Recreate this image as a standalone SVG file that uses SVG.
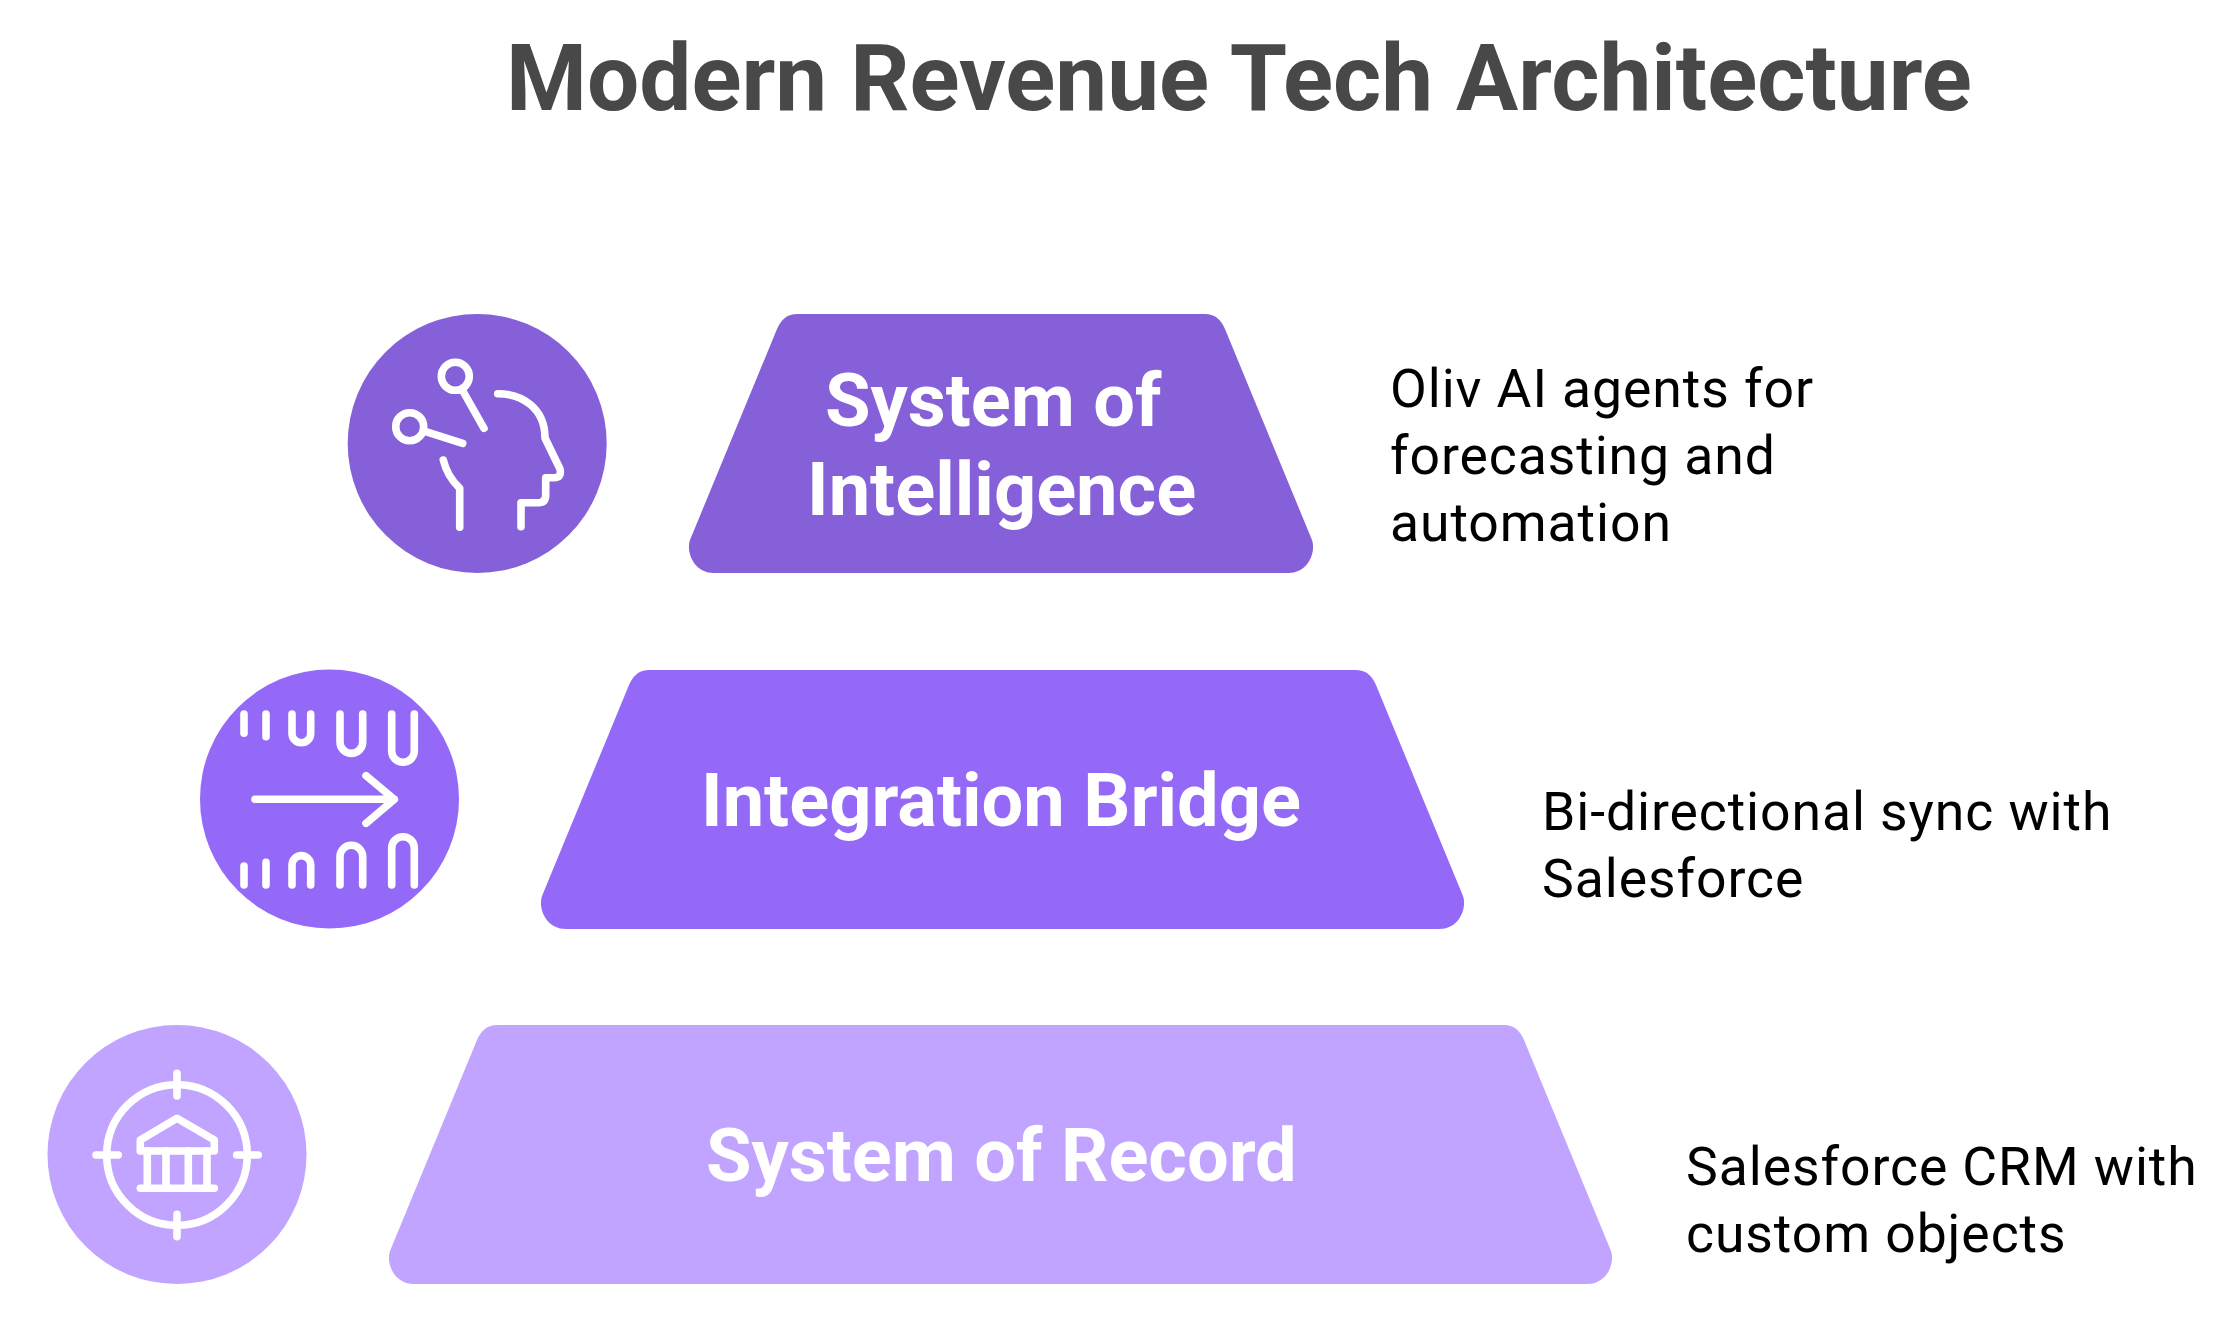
<svg xmlns="http://www.w3.org/2000/svg" width="2235" height="1333" viewBox="0 0 2235 1333">
<style>
text{font-family:Roboto,"Liberation Sans",sans-serif}
.title{font-size:92.6px;font-weight:700;fill:#484848}
.lab{font-size:74px;font-weight:700;fill:#fff}
.desc{font-size:53.5px;letter-spacing:.92px;fill:#000}
.ic{fill:none;stroke:#fff;stroke-width:7.6;stroke-linecap:round;stroke-linejoin:round}
</style>
<rect width="2235" height="1333" fill="#fff"/>
<text class="title" x="506" y="110">Modern Revenue Tech Architecture</text>
<g id="connectors"/>
<g id="node-intelligence">
<circle cx="477.2" cy="443.5" r="129.5" fill="#8560D8"/>
<g class="ic">
<circle cx="455.3" cy="376.3" r="14"/>
<path d="M462.3 390L484 428.3"/>
<circle cx="409.7" cy="426.7" r="14"/>
<path d="M425.7 431.7L462.7 443.3"/>
<path d="M443.3 460Q447 476 459.7 488.3V527.3"/>
<path d="M497.7 393.7C522 393.7 545 408 545 438L560 469Q562 477.7 554 477.7H545.7V495Q545.7 502.7 538.3 502.7H521V526.7"/>
</g>
<path fill="#8560D8" d="M797 314H1205Q1218.7 314 1225 329L1312 540C1316 551 1309 573 1288 573H714C693 573 686 551 690 540L777 329Q783.3 314 797 314Z"/>
<text class="lab" x="825" y="426">System of</text>
<text class="lab" x="807" y="515">Intelligence</text>
<text class="desc" x="1390" y="407">Oliv AI agents for</text>
<text class="desc" x="1390" y="474">forecasting and</text>
<text class="desc" x="1390" y="541">automation</text>
</g>
<g id="node-bridge">
<circle cx="329.5" cy="799" r="129.5" fill="#9469F7"/>
<g class="ic">
<path d="M255 799.3H394.3M366 775.7L394.3 799.3L366 823.3"/>
<path d="M244 714V733.3M266 714V736.7"/>
<path d="M292 714V733.4A9.35 9.35 0 0 0 310.7 733.4V714"/>
<path d="M340 714V742A11.35 11.35 0 0 0 362.7 742V714"/>
<path d="M391.7 714V751A11.3 11.3 0 0 0 414.3 751V714"/>
<path d="M244 885V866M266 885V862.3"/>
<path d="M292 885V865A9.35 9.35 0 0 1 310.7 865V885"/>
<path d="M340 885V856.6A11.35 11.35 0 0 1 362.7 856.6V885"/>
<path d="M391.7 885V848A11.3 11.3 0 0 1 414.3 848V885"/>
</g>
<path fill="#9469F7" d="M649 670H1356Q1369.7 670 1376 685L1463 896C1467 907 1460 929 1439 929H566C545 929 538 907 542 896L629 685Q635.3 670 649 670Z"/>
<text class="lab" x="701" y="826">Integration Bridge</text>
<text class="desc" x="1542" y="830">Bi-directional sync with</text>
<text class="desc" x="1542" y="897">Salesforce</text>
</g>
<g id="node-record">
<circle cx="177" cy="1154.5" r="129.5" fill="#C0A4FF"/>
<g class="ic">
<circle cx="177" cy="1155" r="70.3"/>
<path d="M177 1073.3V1096M177 1214.3V1236.7M96 1155H118.3M236.7 1155H258.3"/>
<path d="M140.3 1151V1140L177 1118.3L214.3 1140V1151Z"/>
<path d="M147.3 1151V1188M166 1151V1188M188.3 1151V1188M207 1151V1188M140.3 1188.3H214.3"/>
</g>
<path fill="#C0A4FF" d="M497 1025H1504Q1517.7 1025 1524 1040L1611 1251C1615 1262 1608 1284 1587 1284H414C393 1284 386 1262 390 1251L477 1040Q483.3 1025 497 1025Z"/>
<text class="lab" x="706" y="1181">System of Record</text>
<text class="desc" x="1686" y="1185">Salesforce CRM with</text>
<text class="desc" x="1686" y="1252">custom objects</text>
</g>
</svg>
